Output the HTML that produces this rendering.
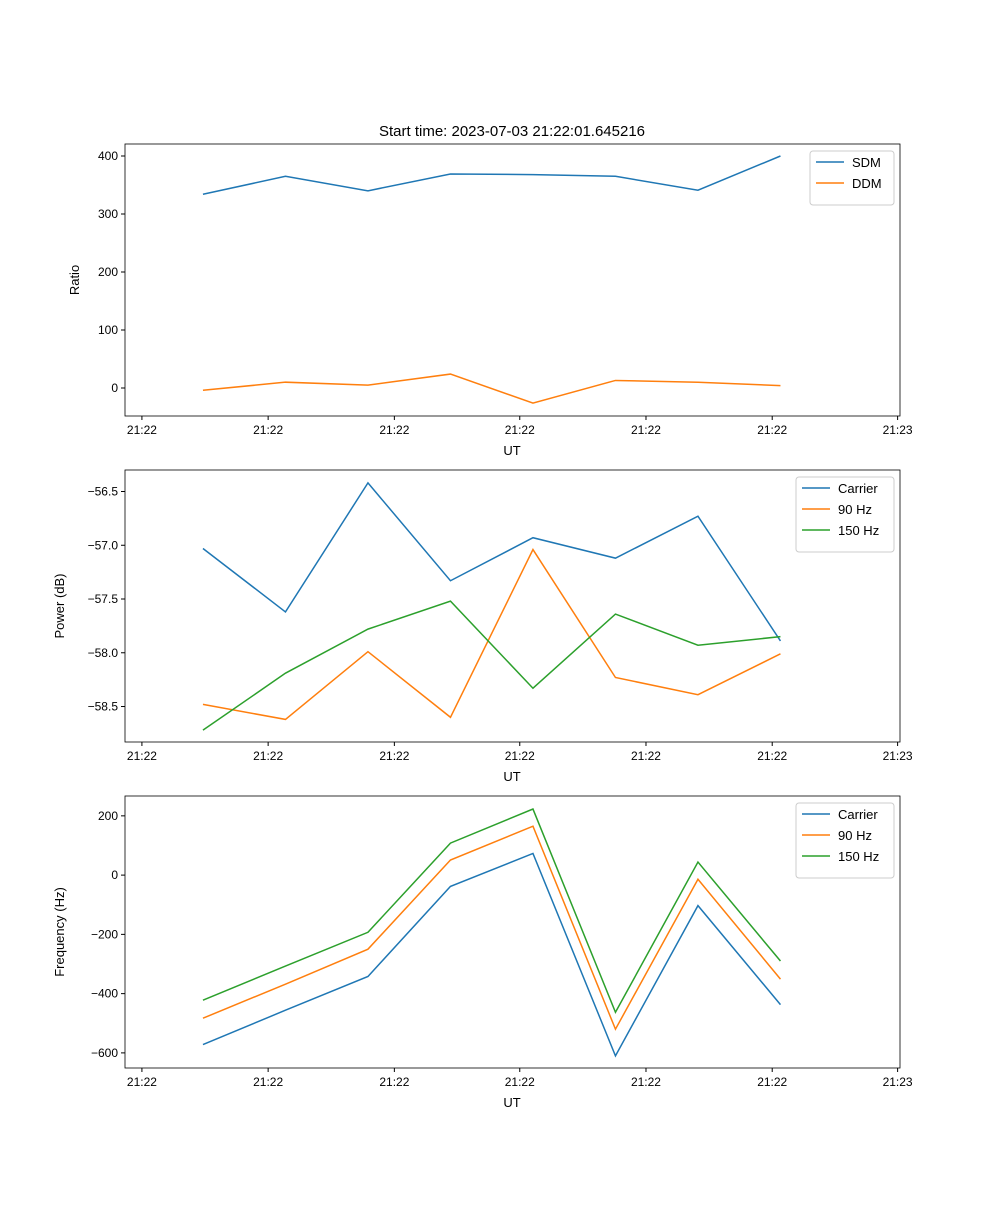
<!DOCTYPE html>
<html><head><meta charset="utf-8"><style>
body{margin:0;background:#fff;}
svg text{font-family:"Liberation Sans","DejaVu Sans",sans-serif;fill:#000;}
</style></head><body>
<svg id="fig" width="1000" height="1200" xmlns="http://www.w3.org/2000/svg">
<text x="512" y="136" font-size="15" text-anchor="middle">Start time: 2023-07-03 21:22:01.645216</text>
</svg>
<script>
const xIdx=[0,1,2,3,4,5,6,7];
const xTickVals=[-0.74,0.79,2.32,3.84,5.37,6.90,8.42];
const xTickLabels=["21:22","21:22","21:22","21:22","21:22","21:22","21:23"];
const sdm=[334,365,340,369,368,365,341,400];
const ddm=[-4,10,5,24,-26,13,10,4];
const pCarrier=[-57.03,-57.62,-56.42,-57.33,-56.93,-57.12,-56.73,-57.89];
const p90=[-58.48,-58.62,-57.99,-58.60,-57.04,-58.23,-58.39,-58.01];
const p150=[-58.72,-58.19,-57.78,-57.52,-58.33,-57.64,-57.93,-57.85];
const fCarrier=[-572,-456,-342,-38,73,-610,-103,-437];
const f90=[-483,-368,-250,51,165,-520,-14,-351];
const f150=[-422,-307,-193,108,223,-463,44,-290];
const ratioTicks=[0,100,200,300,400];
const powerTicks=[-58.5,-58.0,-57.5,-57.0,-56.5];
const powerTickLabels=["\u221258.5","\u221258.0","\u221257.5","\u221257.0","\u221256.5"];
const freqTicks=[-600,-400,-200,0,200];
const freqTickLabels=["\u2212600","\u2212400","\u2212200","0","200"];
const C=["#1f77b4","#ff7f0e","#2ca02c"];
const NS="http://www.w3.org/2000/svg";
const svg=document.getElementById('fig');
function mk(t,a,p){const e=document.createElementNS(NS,t);for(const k in a)e.setAttribute(k,a[k]);(p||svg).appendChild(e);return e;}
const L=125,R=900,X0=-0.945,X1=8.449;
function xs(v){return L+(v-X0)/(X1-X0)*(R-L);}
function panel(name,top,ymin,ymax,yt,ytl,ylabel,series,names,legW){
  const B=top+272;
  const ys=v=>B-(v-ymin)/(ymax-ymin)*272;
  const g=mk('g',{});
  
  
  series.forEach((s,k)=>{
    const p=mk('polyline',{points:s.map((v,i)=>xs(xIdx[i])+','+ys(v)).join(' '),fill:'none',stroke:C[k],'stroke-width':1.5},g);
    
    
  });
  mk('rect',{x:L,y:top,width:R-L,height:272,fill:'none',stroke:'#000','stroke-width':0.8},g);
  xTickVals.forEach((v,i)=>{const x=xs(v);mk('line',{x1:x,x2:x,y1:B,y2:B+4,stroke:'#000'},g);
    const t=mk('text',{x:x,y:B+18,'font-size':12,'text-anchor':'middle'},g);t.textContent=xTickLabels[i];});
  yt.forEach((v,i)=>{const y=ys(v);mk('line',{x1:L-4,x2:L,y1:y,y2:y,stroke:'#000'},g);
    const t=mk('text',{x:L-7,y:y+4,'font-size':12,'text-anchor':'end'},g);t.textContent=ytl[i];});
  const xl=mk('text',{x:512,y:B+39,'font-size':13,'text-anchor':'middle'},g);xl.textContent='UT';
  
  const yl=mk('text',{x:0,y:0,'font-size':13,'text-anchor':'middle',transform:`translate(${name==='ratio'?79:64},${top+136}) rotate(-90)`},g);yl.textContent=ylabel;
  
  const lg=mk('g',{},g);
  
  
  const lx=R-6-legW;
  mk('rect',{x:lx,y:top+7,width:legW,height:12+21*names.length,fill:'#fff',stroke:'#ccc',rx:3},lg);
  names.forEach((n,k)=>{const y=top+18+21*k;
    mk('line',{x1:lx+6,x2:lx+34,y1:y,y2:y,stroke:C[k],'stroke-width':1.5},lg);
    const t=mk('text',{x:lx+42,y:y+5,'font-size':13},lg);t.textContent=n;});
}
panel('ratio',144,-48.3,420.7,ratioTicks,ratioTicks.map(String),'Ratio',[sdm,ddm],['SDM','DDM'],84);
panel('power',470,-58.83,-56.3,powerTicks,powerTickLabels,'Power (dB)',[pCarrier,p90,p150],['Carrier','90 Hz','150 Hz'],98);
panel('frequency',796,-651,267,freqTicks,freqTickLabels,'Frequency (Hz)',[fCarrier,f90,f150],['Carrier','90 Hz','150 Hz'],98);
</script>
</body></html>
